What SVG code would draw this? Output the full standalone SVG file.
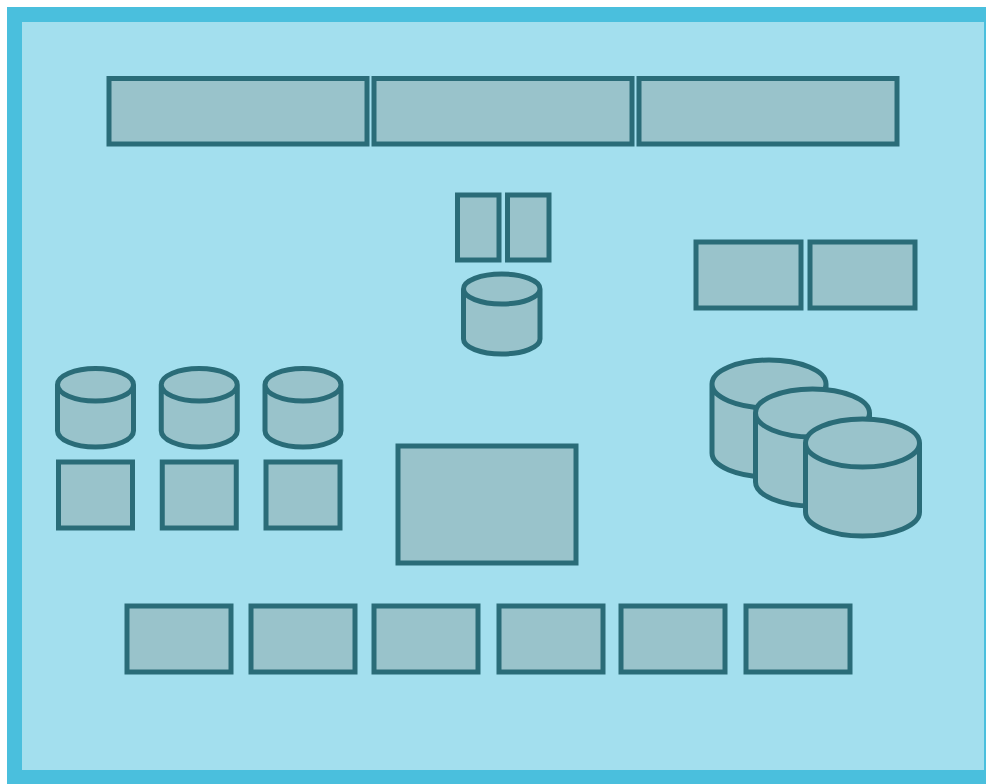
<svg xmlns="http://www.w3.org/2000/svg" width="986" height="784" viewBox="0 0 986 784">
<style>
.n{fill:#99C3CB;stroke:#2A6C78;stroke-width:5;stroke-linejoin:miter}
.c{fill:#99C3CB;stroke:#2A6C78;stroke-width:5}
</style>
<defs>
<path id="cylS" d="M-38,0 a38,16.25 0 0 0 76,0 a38,16.25 0 0 0 -76,0 v46 a38,16.25 0 0 0 76,0 v-46"/>
<path id="cylL" d="M-57,0 a57,24 0 0 0 114,0 a57,24 0 0 0 -114,0 v69 a57,24 0 0 0 114,0 v-69"/>
</defs>
<rect x="14.5" y="14.5" width="977" height="763" fill="#A3DFEE" stroke="#4ABFDD" stroke-width="15"/>
<g id="top1"><rect class="n" x="109" y="78.5" width="258" height="65.5"/></g>
<g id="top2"><rect class="n" x="374" y="78.5" width="258" height="65.5"/></g>
<g id="top3"><rect class="n" x="639" y="78.5" width="258" height="65.5"/></g>
<g id="small1"><rect class="n" x="457.5" y="195" width="41.5" height="65"/></g>
<g id="small2"><rect class="n" x="507.5" y="195" width="41.5" height="65"/></g>
<g id="cylMid"><path class="c" d="M463.5,289 a38.25,15 0 0 0 76.5,0 a38.25,15 0 0 0 -76.5,0 v50 a38.25,15 0 0 0 76.5,0 v-50"/></g>
<g id="right1"><rect class="n" x="696" y="242" width="105" height="66"/></g>
<g id="right2"><rect class="n" x="810" y="242" width="105" height="66"/></g>
<g id="cylA"><use href="#cylS" class="c" x="95.5" y="384.75"/></g>
<g id="cylB"><use href="#cylS" class="c" x="199.25" y="384.75"/></g>
<g id="cylC"><use href="#cylS" class="c" x="303" y="384.75"/></g>
<g id="sqA"><rect class="n" x="58.5" y="462" width="74" height="66"/></g>
<g id="sqB"><rect class="n" x="162.25" y="462" width="74" height="66"/></g>
<g id="sqC"><rect class="n" x="266" y="462" width="74" height="66"/></g>
<g id="big"><rect class="n" x="398" y="446" width="178" height="117"/></g>
<g id="cylL1"><use href="#cylL" class="c" x="769" y="384"/></g>
<g id="cylL2"><use href="#cylL" class="c" x="812.5" y="413"/></g>
<g id="cylL3"><use href="#cylL" class="c" x="862.5" y="443"/></g>
<g id="b1"><rect class="n" x="127" y="606" width="104" height="66"/></g>
<g id="b2"><rect class="n" x="251" y="606" width="104" height="66"/></g>
<g id="b3"><rect class="n" x="374" y="606" width="104" height="66"/></g>
<g id="b4"><rect class="n" x="499" y="606" width="104" height="66"/></g>
<g id="b5"><rect class="n" x="621" y="606" width="104" height="66"/></g>
<g id="b6"><rect class="n" x="746" y="606" width="104" height="66"/></g>
<g id="connectors"></g>
</svg>
